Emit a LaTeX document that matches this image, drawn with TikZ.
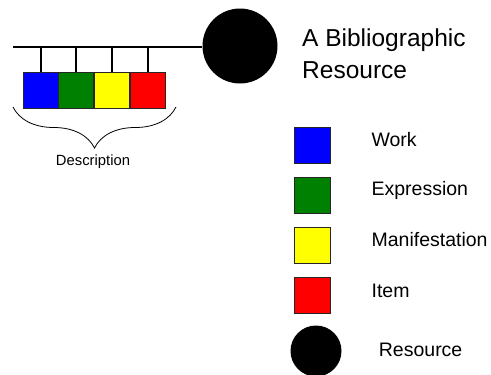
\documentclass[tikz,border=0pt]{standalone}
\usepackage{fontspec}
\setmainfont{Liberation Sans}
\usepackage{tikz}
\usetikzlibrary{positioning, decorations.pathreplacing}
\definecolor{frbrblue}{RGB}{0,0,255}
\definecolor{frbrgreen}{RGB}{0,128,0}
\definecolor{frbryellow}{RGB}{255,255,0}
\definecolor{frbrred}{RGB}{255,0,0}

\begin{document}
\begin{tikzpicture}[x=1pt, y=-1pt,
    entity/.style={draw=black!85, line width=0.8pt, minimum width=35pt, minimum height=36pt, inner sep=0pt},
    resdot/.style={circle, fill=black, inner sep=0pt},
    legtext/.style={font=\fontsize{19.5}{23}\selectfont, inner sep=0pt, anchor=west}]
  \useasboundingbox (0,0) rectangle (491,375);
  % resource with its description bus
  \node[resdot, minimum size=75pt] (res) at (240,46) {};
  \coordinate (busstart) at (13,47);
  \draw[line width=2pt] (busstart) -- (busstart -| res.west);
  % the four entities hanging from the bus
  \node[entity, fill=frbrblue] (work) at (40.5,90) {};
  \node[entity, fill=frbrgreen, right=0pt of work] (expr) {};
  \node[entity, fill=frbryellow, right=0pt of expr] (manif) {};
  \node[entity, fill=frbrred, right=0pt of manif] (item) {};
  \foreach \e in {work,expr,manif,item}
    \draw[line width=2pt] (\e.north) -- (\e.north |- busstart);
  % brace under the entities
  \coordinate (braceleft) at (13,107);
  \coordinate (braceright) at (176,107);
  \draw[decorate, decoration={brace, amplitude=41pt, mirror}, line width=0.8pt]
    (braceleft) -- (braceright);
  \node[font=\fontsize{14.8}{17}\selectfont] (desc) at (93,162) {Description};
  % title
  \node[font=\fontsize{24.5}{32}\selectfont, align=left, anchor=north west, inner sep=0pt]
    (title) at (302,29) {A Bibliographic\\Resource};
  % legend
  \foreach \name/\col/\yy/\txt in {work/frbrblue/145/Work, expr/frbrgreen/195/Expression,
      manif/frbryellow/245/Manifestation, item/frbrred/295.5/Item} {
    \node[entity, minimum width=36pt, fill=\col] (key\name) at (312,\yy) {};
    \node[legtext, right=41pt of key\name, yshift=5pt] (lab\name) {\txt};
  }
  \node[resdot, minimum size=51pt] (keyres) at (316,351) {};
  \node[legtext, right=37pt of keyres, yshift=1pt] (labres) {Resource};
\end{tikzpicture}
\end{document}
